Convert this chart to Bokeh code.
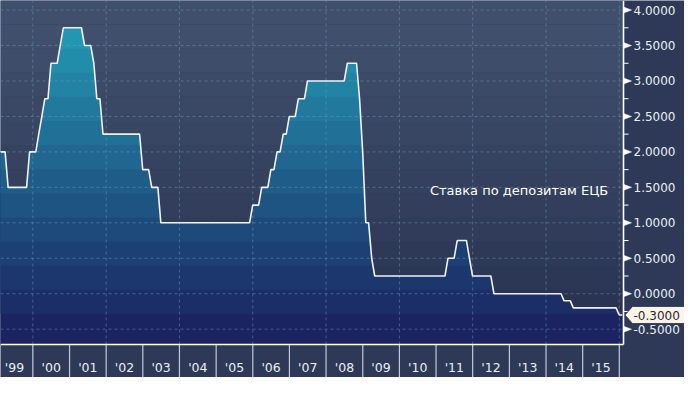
import numpy as np
import pandas as pd
from bokeh.plotting import figure
from bokeh.models import Range1d
from bokeh.core.properties import value
from bokeh.embed import file_html
from bokeh.resources import INLINE

# ---------------- data: ECB deposit facility rate, month-end values ----------------
rate_1999 = [2.00, 2.00, 2.00, 1.50, 1.50, 1.50, 1.50, 1.50, 1.50, 1.50, 2.00, 2.00]
rate_2000 = [2.00, 2.25, 2.50, 2.75, 2.75, 3.25, 3.25, 3.25, 3.50, 3.75, 3.75, 3.75]
rate_2001 = [3.75, 3.75, 3.75, 3.75, 3.50, 3.50, 3.50, 3.25, 2.75, 2.75, 2.25, 2.25]
rate_2002 = [2.25, 2.25, 2.25, 2.25, 2.25, 2.25, 2.25, 2.25, 2.25, 2.25, 2.25, 1.75]
rate_2003 = [1.75, 1.75, 1.50, 1.50, 1.50, 1.00, 1.00, 1.00, 1.00, 1.00, 1.00, 1.00]
rate_2004 = [1.00, 1.00, 1.00, 1.00, 1.00, 1.00, 1.00, 1.00, 1.00, 1.00, 1.00, 1.00]
rate_2005 = [1.00, 1.00, 1.00, 1.00, 1.00, 1.00, 1.00, 1.00, 1.00, 1.00, 1.00, 1.25]
rate_2006 = [1.25, 1.25, 1.50, 1.50, 1.50, 1.75, 1.75, 2.00, 2.00, 2.25, 2.25, 2.50]
rate_2007 = [2.50, 2.50, 2.75, 2.75, 2.75, 3.00, 3.00, 3.00, 3.00, 3.00, 3.00, 3.00]
rate_2008 = [3.00, 3.00, 3.00, 3.00, 3.00, 3.00, 3.25, 3.25, 3.25, 3.25, 2.75, 2.00]
rate_2009 = [1.00, 1.00, 0.50, 0.25, 0.25, 0.25, 0.25, 0.25, 0.25, 0.25, 0.25, 0.25]
rate_2010 = [0.25, 0.25, 0.25, 0.25, 0.25, 0.25, 0.25, 0.25, 0.25, 0.25, 0.25, 0.25]
rate_2011 = [0.25, 0.25, 0.25, 0.50, 0.50, 0.50, 0.75, 0.75, 0.75, 0.75, 0.50, 0.25]
rate_2012 = [0.25, 0.25, 0.25, 0.25, 0.25, 0.25, 0.00, 0.00, 0.00, 0.00, 0.00, 0.00]
rate_2013 = [0.00, 0.00, 0.00, 0.00, 0.00, 0.00, 0.00, 0.00, 0.00, 0.00, 0.00, 0.00]
rate_2014 = [0.00, 0.00, 0.00, 0.00, 0.00, -0.10, -0.10, -0.10, -0.20, -0.20, -0.20, -0.20]
rate_2015 = [-0.20, -0.20, -0.20, -0.20, -0.20, -0.20, -0.20, -0.20, -0.20, -0.20, -0.20, -0.30]
rate_2016 = [-0.30]

year_labels = ["'99", "'00", "'01", "'02", "'03", "'04", "'05", "'06", "'07",
               "'08", "'09", "'10", "'11", "'12", "'13", "'14", "'15"]
y_ticks = [-0.5, 0.0, 0.5, 1.0, 1.5, 2.0, 2.5, 3.0, 3.5, 4.0]
y_tick_labels = ["-0.5000", "0.0000", "0.5000", "1.0000", "1.5000",
                 "2.0000", "2.5000", "3.0000", "3.5000", "4.0000"]
y_minor = [-0.25, 0.25, 0.75, 1.25, 1.75, 2.25, 2.75, 3.25, 3.75]
series_label = "Ставка по депозитам ЕЦБ"
last_value = -0.30
last_label = "-0.3000"

rate = (rate_1999 + rate_2000 + rate_2001 + rate_2002 + rate_2003 + rate_2004 +
        rate_2005 + rate_2006 + rate_2007 + rate_2008 + rate_2009 + rate_2010 +
        rate_2011 + rate_2012 + rate_2013 + rate_2014 + rate_2015 + rate_2016)
months = pd.date_range("1999-01-31", periods=len(rate), freq="ME")


def ms(ts):
    return int(pd.Timestamp(ts).value // 10**6)


x = np.array([ms(t) for t in months], dtype=float)
r = np.array(rate)

# ---------------- layout ----------------
W, H = 684, 377
RB, BB = 61, 33              # right axis panel, bottom axis panel (pixels)
FW, FH = W - RB, H - BB      # data area

x0, x1 = ms("1999-02-13"), ms("2016-02-12")
y0, y1 = -0.716, 4.135
px_x = (x1 - x0) / FW        # data units per pixel
px_y = (y1 - y0) / FH
xR = x0 + W * px_x
yB = y1 - H * px_y

PANEL = "#2d3956"
TXT = "#eaeff5"
FONT = value("DejaVu Sans")

p = figure(width=W, height=H, x_range=Range1d(x0, xR), y_range=Range1d(yB, y1),
           x_axis_location=None, y_axis_location=None,
           output_backend="svg", toolbar_location=None,
           min_border=0, background_fill_color=PANEL, border_fill_color=PANEL)
p.outline_line_color = None
p.grid.visible = False

# ---------------- banded gradients ----------------
edges = [y0] + list(np.arange(-0.284, y1, 0.34)) + [y1]
nb = len(edges) - 1
bg_bot, bg_top = np.array([40, 50, 80]), np.array([64, 79, 108])
fl_bot, fl_top = np.array([27, 36, 96]), np.array([35, 150, 178])


def hexc(c):
    c = np.clip(np.round(c), 0, 255).astype(int)
    return "#%02x%02x%02x" % tuple(c)


for k in range(nb):
    f = min(k / (nb - 2), 1.0)
    p.quad(left=x0, right=x1, bottom=edges[k], top=edges[k + 1],
           fill_color=hexc(bg_bot + (bg_top - bg_bot) * f), line_color=None)

for k in range(nb):
    f = min(k / (nb - 2), 1.0)
    lo = edges[k]
    p.varea(x=x, y1=np.minimum(lo, r), y2=r, fill_color=hexc(fl_bot + (fl_top - fl_bot) * f))

# ---------------- grid (dashed) ----------------
even_years = [ms(f"{yy}-01-01") for yy in range(2000, 2018, 2)]
grid_kw = dict(line_color="#6fa3c6", line_alpha=0.45, line_dash="3 3", line_width=1)
p.segment(x0=[x0] * len(y_ticks), x1=[x1] * len(y_ticks), y0=y_ticks, y1=y_ticks, **grid_kw)
p.segment(x0=even_years, x1=even_years, y0=[y0] * len(even_years), y1=[y1] * len(even_years), **grid_kw)

# ---------------- series line ----------------
p.line(x, r, line_color="#eef2f7", line_width=1.6)

# ---------------- bottom axis ----------------
mid_years = [ms(f"{1999 + i}-07-02") for i in range(len(year_labels))]
year_starts = [ms(f"{yy}-01-01") for yy in range(2000, 2017)]
p.segment(x0=year_starts, x1=year_starts, y0=[y0] * len(year_starts), y1=[yB] * len(year_starts),
          line_color="#c3cad6", line_width=1.2)
p.segment(x0=[x0], x1=[x1], y0=[y0], y1=[y0], line_color="#ffffff", line_width=1.6)
p.text(x=mid_years, y=[y0 - 23 * px_y] * len(mid_years), text=year_labels,
       text_align="center", text_baseline="middle", text_color=TXT,
       text_font=FONT, text_font_size=value("12.5px"))

# ---------------- right axis ----------------
p.segment(x0=[x1], x1=[x1], y0=[y0], y1=[y1], line_color="#ffffff", line_width=1.6)
p.segment(x0=[x1] * len(y_minor), x1=[x1 + 5 * px_x] * len(y_minor), y0=y_minor, y1=y_minor,
          line_color="#ffffff", line_width=1)
p.patches(xs=[[x1, x1 + 8 * px_x, x1] for _ in y_ticks],
          ys=[[t + 3 * px_y, t, t - 3 * px_y] for t in y_ticks],
          fill_color="#ffffff", line_color="#ffffff", line_width=0.5)
p.text(x=[x1 + 10 * px_x] * len(y_ticks), y=y_ticks, text=y_tick_labels,
       text_align="left", text_baseline="middle", text_color=TXT,
       text_font=FONT, text_font_size=value("12px"))

# last-value tag
hh = 8.5 * px_y
p.patch(x=[x1 + 1.5 * px_x, x1 + 9 * px_x, xR + px_x, xR + px_x, x1 + 9 * px_x],
        y=[last_value, last_value + hh, last_value + hh, last_value - hh, last_value - hh],
        fill_color="#fdf4e6", line_color="#3a4763", line_width=1)
p.text(x=[x1 + 10 * px_x], y=[last_value], text=[last_label],
       text_align="left", text_baseline="middle", text_color="#1d2637",
       text_font=FONT, text_font_size=value("12px"))

# series annotation
p.text(x=[ms("2015-09-13")], y=[1.45], text=[series_label],
       text_align="right", text_baseline="middle", text_color="#ffffff",
       text_font=FONT, text_font_size=value("13px"))

open("out.html", "w").write(file_html(p, INLINE))
